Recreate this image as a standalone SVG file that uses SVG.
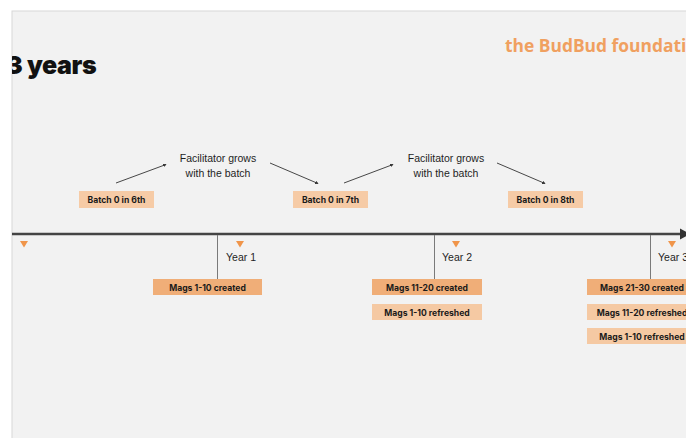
<svg xmlns="http://www.w3.org/2000/svg" width="686" height="438" viewBox="0 0 686 438">
  <defs>
    <style>
      .lbl { font-family: "Liberation Sans", Arial, sans-serif; font-size: 10.5px; fill: #1e1e1e; text-anchor: middle; }
      .tag { font-family: "Inter", "DejaVu Sans", sans-serif; font-size: 8.6px; font-weight: 700; fill: #1a1a1a; text-anchor: middle; }
      .batch { fill: #f6cba6; }
      .made { fill: #f0ae78; }
      .redo { fill: #f5c9a3; }
      .tick { stroke: #7a7a7a; stroke-width: 1; }
      .mark { fill: #f0954a; }
      .grow { stroke: #333; stroke-width: 0.9; fill: none; marker-end: url(#tip); }
    </style>
    <marker id="tip" viewBox="0 0 6 6" refX="5" refY="3" markerWidth="4" markerHeight="4" orient="auto">
      <path d="M0,0 L6,3 L0,6 z" fill="#333"/>
    </marker>
    <clipPath id="slide">
      <rect x="12" y="11" width="674" height="427"/>
    </clipPath>
  </defs>

  <rect width="686" height="438" fill="#ffffff"/>
  <rect x="12" y="11" width="680" height="440" fill="#f2f2f2" stroke="#d8d8d8" stroke-width="1"/>

  <g clip-path="url(#slide)">
    <text x="6" y="74" font-family="Inter, 'DejaVu Sans', sans-serif" font-size="25" font-weight="900" fill="#111" letter-spacing="-0.4">3 years</text>
    <text x="505" y="52" font-family="'Open Sans', 'DejaVu Sans', sans-serif" font-size="17.4" font-weight="700" fill="#f0a060">the BudBud foundation</text>

    <!-- connectors -->
    <g id="connectors">
      <line x1="12" y1="234" x2="682" y2="234" stroke="#444" stroke-width="2.6"/>
      <path d="M680,228.5 L690,234 L680,239.5 z" fill="#333"/>
      <line class="tick" x1="217.5" y1="235" x2="217.5" y2="279"/>
      <line class="tick" x1="434.5" y1="235" x2="434.5" y2="279"/>
      <line class="tick" x1="650.5" y1="235" x2="650.5" y2="279"/>
      <line class="grow" x1="116" y1="183" x2="166" y2="164.5"/>
      <line class="grow" x1="270" y1="163" x2="318" y2="183.5"/>
      <line class="grow" x1="344" y1="183" x2="393" y2="164.5"/>
      <line class="grow" x1="497" y1="163" x2="545" y2="183.5"/>
    </g>

    <g id="markers">
      <path class="mark" d="M20,241 L28,241 L24,247.5 z"/>
      <path class="mark" d="M236,241 L244,241 L240,247.5 z"/>
      <path class="mark" d="M452,241 L460,241 L456,247.5 z"/>
      <path class="mark" d="M668,241 L676,241 L672,247.5 z"/>
    </g>

    <g id="year1"><text class="lbl" x="241" y="261">Year 1</text></g>
    <g id="year2"><text class="lbl" x="457" y="261">Year 2</text></g>
    <g id="year3"><text class="lbl" x="673" y="261">Year 3</text></g>

    <g id="grow1">
      <text class="lbl" x="218" y="162">Facilitator grows</text>
      <text class="lbl" x="218" y="177">with the batch</text>
    </g>
    <g id="grow2">
      <text class="lbl" x="446" y="162">Facilitator grows</text>
      <text class="lbl" x="446" y="177">with the batch</text>
    </g>

    <g id="batch6">
      <rect class="batch" x="79" y="191" width="75" height="17"/>
      <text class="tag" x="116.5" y="202.8">Batch 0 in 6th</text>
    </g>
    <g id="batch7">
      <rect class="batch" x="293" y="191" width="75" height="17"/>
      <text class="tag" x="330.5" y="202.8">Batch 0 in 7th</text>
    </g>
    <g id="batch8">
      <rect class="batch" x="508" y="191" width="75" height="17"/>
      <text class="tag" x="545.5" y="202.8">Batch 0 in 8th</text>
    </g>

    <g id="mags1-10">
      <rect class="made" x="153" y="279" width="109" height="16"/>
      <text class="tag" x="207.5" y="290.5">Mags 1-10 created</text>
    </g>
    <g id="mags11-20">
      <rect class="made" x="372" y="279" width="110" height="16"/>
      <text class="tag" x="427" y="290.5">Mags 11-20 created</text>
    </g>
    <g id="refresh1-10-y2">
      <rect class="redo" x="372" y="304" width="110" height="16"/>
      <text class="tag" x="427" y="315.5">Mags 1-10 refreshed</text>
    </g>
    <g id="mags21-30">
      <rect class="made" x="587" y="279" width="110" height="16"/>
      <text class="tag" x="642" y="290.5">Mags 21-30 created</text>
    </g>
    <g id="refresh11-20-y3">
      <rect class="redo" x="587" y="304" width="110" height="16"/>
      <text class="tag" x="642" y="315.5">Mags 11-20 refreshed</text>
    </g>
    <g id="refresh1-10-y3">
      <rect class="redo" x="587" y="328" width="110" height="16"/>
      <text class="tag" x="642" y="339.5">Mags 1-10 refreshed</text>
    </g>
  </g>
</svg>
